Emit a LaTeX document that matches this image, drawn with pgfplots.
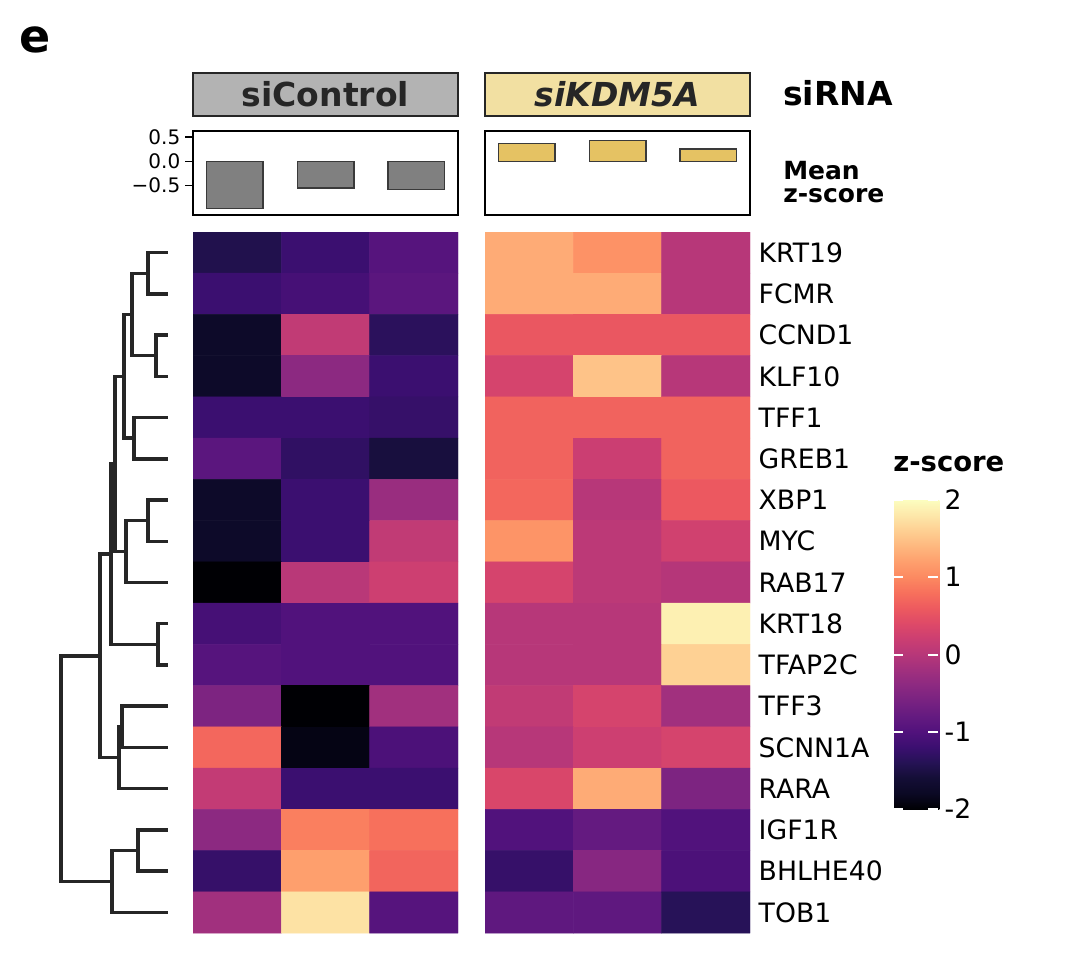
\documentclass[border=0pt]{standalone}
\usepackage{pgfplots}
\pgfplotsset{compat=1.18}
\usepackage{pgfplotstable}
\usepackage{fontspec}
\setmainfont{DejaVu Sans}
\definecolor{dgray}{HTML}{262626}
\definecolor{ctrlc}{HTML}{B3B3B3}
\definecolor{kdmc}{HTML}{F2E0A2}
\definecolor{bargold}{HTML}{E5C263}
\definecolor{bargray}{HTML}{808080}
\definecolor{baredge}{HTML}{3A3A3A}
\pgfplotsset{colormap={magma}{
 rgb255=(0,0,4) rgb255=(11,9,36) rgb255=(20,14,54) rgb255=(37,18,85) rgb255=(59,15,112)
 rgb255=(81,18,124) rgb255=(100,26,128) rgb255=(120,34,129) rgb255=(140,41,129) rgb255=(161,48,126)
 rgb255=(183,55,121) rgb255=(203,62,114) rgb255=(222,73,104) rgb255=(237,90,95) rgb255=(247,112,92)
 rgb255=(252,137,97) rgb255=(254,159,109) rgb255=(254,183,126) rgb255=(254,207,146) rgb255=(253,231,169)
 rgb255=(252,253,191)}}
\tikzset{den/.style={draw=dgray, line width=2.6pt, mark=none, line join=miter, line cap=rect}}

\pgfplotstableread{
x y z
0 0 -1.45
1 0 -1.2
2 0 -0.95
0 1 -1.2
1 1 -1.1
2 1 -0.9
0 2 -1.75
1 2 0.1
2 2 -1.35
0 3 -1.75
1 3 -0.4
2 3 -1.2
0 4 -1.2
1 4 -1.2
2 4 -1.25
0 5 -0.9
1 5 -1.3
2 5 -1.55
0 6 -1.75
1 6 -1.2
2 6 -0.28
0 7 -1.75
1 7 -1.2
2 7 0.1
0 8 -2.0
1 8 0.02
2 8 0.22
0 9 -1.1
1 9 -1.0
2 9 -1.0
0 10 -0.95
1 10 -1.0
2 10 -1.0
0 11 -0.55
1 11 -2.0
2 11 -0.2
0 12 0.72
1 12 -1.9
2 12 -1.05
0 13 0.12
1 13 -1.2
2 13 -1.2
0 14 -0.4
1 14 0.92
2 14 0.8
0 15 -1.25
1 15 1.2
2 15 0.7
0 16 -0.2
1 16 1.76
2 16 -0.95
}\ctrltab

\pgfplotstableread{
x y z
0 0 1.3
1 0 1.08
2 0 0.0
0 1 1.3
1 1 1.3
2 1 0.0
0 2 0.56
1 2 0.56
2 2 0.56
0 3 0.3
1 3 1.5
2 3 0.0
0 4 0.68
1 4 0.68
2 4 0.68
0 5 0.68
1 5 0.2
2 5 0.68
0 6 0.72
1 6 0.0
2 6 0.58
0 7 1.1
1 7 0.05
2 7 0.25
0 8 0.3
1 8 0.05
2 8 -0.02
0 9 0.0
1 9 0.0
2 9 1.88
0 10 0.0
1 10 0.0
2 10 1.62
0 11 0.1
1 11 0.3
2 11 -0.2
0 12 0.0
1 12 0.22
2 12 0.3
0 13 0.35
1 13 1.3
2 13 -0.55
0 14 -1.0
1 14 -0.8
2 14 -1.0
0 15 -1.25
1 15 -0.45
2 15 -1.05
0 16 -0.85
1 16 -0.85
2 16 -1.38
}\kdmtab

\begin{document}
\begin{tikzpicture}
\path[use as bounding box] (0pt,0pt) rectangle (810pt,-714pt);

% dendrogram
\begin{axis}[at={(0pt,-174pt)}, anchor=north west, scale only axis,
  width=144.75pt, height=525.75pt, xmin=0, xmax=193, ymin=-0.5, ymax=16.5,
  y dir=reverse, hide axis, clip=false]
\addplot[den] coordinates {(166,0)(148,0)(148,1)(166,1)};
\addplot[den] coordinates {(166,2)(156,2)(156,3)(166,3)};
\addplot[den] coordinates {(148,0.5)(132,0.5)(132,2.5)(156,2.5)};
\addplot[den] coordinates {(166,4)(134,4)(134,5)(166,5)};
\addplot[den] coordinates {(132,1.5)(124,1.5)(124,4.5)(134,4.5)};
\addplot[den] coordinates {(166,6)(148,6)(148,7)(166,7)};
\addplot[den] coordinates {(148,6.5)(126,6.5)(126,8)(166,8)};
\addplot[den] coordinates {(124,3)(115,3)(115,7.25)(126,7.25)};
\addplot[den] coordinates {(166,9)(158,9)(158,10)(166,10)};
\addplot[den] coordinates {(115,5.125)(111,5.125)(111,9.5)(158,9.5)};
\addplot[den] coordinates {(166,11)(122,11)(122,12)(166,12)};
\addplot[den] coordinates {(122,11.5)(119,11.5)(119,13)(166,13)};
\addplot[den] coordinates {(111,7.3125)(100,7.3125)(100,12.25)(119,12.25)};
\addplot[den] coordinates {(166,14)(138,14)(138,15)(166,15)};
\addplot[den] coordinates {(138,14.5)(112,14.5)(112,16)(166,16)};
\addplot[den] coordinates {(100,9.78)(61,9.78)(61,15.25)(112,15.25)};
\end{axis}

% left heatmap
\begin{axis}[at={(144.75pt,-174pt)}, anchor=north west, scale only axis,
  width=198.75pt, height=525.75pt, xmin=-0.5, xmax=2.5, ymin=-0.5, ymax=16.5,
  y dir=reverse, hide axis, colormap name=magma, point meta min=-2, point meta max=2]
\addplot[matrix plot*, mesh/cols=3, point meta=explicit] table[x=x, y=y, meta=z] {\ctrltab};
\end{axis}

% right heatmap with labels and colorbar
\begin{axis}[at={(363.75pt,-174pt)}, anchor=north west, scale only axis,
  width=198.75pt, height=525.75pt, xmin=-0.5, xmax=2.5, ymin=-0.5, ymax=16.5,
  y dir=reverse, axis line style={draw=none}, xtick=\empty, ytick={0,...,16},
  yticklabels={KRT19,FCMR,CCND1,KLF10,TFF1,GREB1,XBP1,MYC,RAB17,KRT18,TFAP2C,TFF3,SCNN1A,RARA,IGF1R,BHLHE40,TOB1},
  yticklabel pos=right, ytick style={draw=none}, major tick length=0pt,
  yticklabel style={font=\fontsize{20}{24}\selectfont, xshift=3pt},
  colormap name=magma, point meta min=-2, point meta max=2,
  colorbar,
  colorbar/width=33.75pt,
  colorbar style={at={(parent axis.north east)}, anchor=north west,
    xshift=99.75pt, yshift=-201pt, scale only axis, width=33.75pt, height=231.75pt,
    y dir=normal, ymin=-2, ymax=2, ytick=\empty, axis line style={draw=none}}]
\addplot[matrix plot*, mesh/cols=3, point meta=explicit] table[x=x, y=y, meta=z] {\kdmtab};
\end{axis}

% colorbar ticks and labels
\begin{axis}[at={(669.75pt,-375pt)}, anchor=north west, scale only axis,
  width=33.75pt, height=231.75pt, xmin=0, xmax=1, ymin=-2, ymax=2,
  axis line style={draw=none}, xtick=\empty,
  ytick={-2,-1,0,1,2}, yticklabels={-2,-1,0,1,2},
  ytick pos=both, yticklabel pos=right, tick align=inside,
  major tick length=7.5pt, ytick style={draw=white, line width=1.5pt},
  yticklabel style={font=\fontsize{20}{24}\selectfont, xshift=1.5pt}]
\end{axis}

% mean z-score bars, control
\begin{axis}[at={(144.75pt,-98.25pt)}, anchor=north west, scale only axis,
  width=198.75pt, height=63pt, xmin=0, xmax=3, ymin=-1.10, ymax=0.62,
  axis line style={black, line width=1.4pt}, xtick=\empty,
  ytick={-0.5,0,0.5}, yticklabels={−0.5,0.0,0.5}, ytick pos=left, tick align=outside,
  major tick length=6pt, ytick style={black, line width=1.1pt},
  yticklabel style={font=\fontsize{15}{18}\selectfont}]
\addplot[ybar, bar width=0.64, fill=bargray, draw=baredge, line width=1.1pt] coordinates {(0.47,-0.97) (1.5,-0.55) (2.53,-0.58)};
\end{axis}

% mean z-score bars, KDM5A
\begin{axis}[at={(363.75pt,-98.25pt)}, anchor=north west, scale only axis,
  width=198.75pt, height=63pt, xmin=0, xmax=3, ymin=-1.10, ymax=0.62,
  axis line style={black, line width=1.4pt}, xtick=\empty, ytick=\empty]
\addplot[ybar, bar width=0.64, fill=bargold, draw=baredge, line width=1.1pt] coordinates {(0.47,0.36) (1.5,0.43) (2.53,0.25)};
\end{axis}

% annotation boxes
\draw[fill=ctrlc, draw=dgray, line width=1.5pt] (144.75pt,-54.75pt) rectangle (343.5pt,-87pt);
\node[text=dgray, font=\fontsize{24.75}{28}\selectfont\bfseries] at (244.1pt,-70.9pt) {siControl};
\draw[fill=kdmc, draw=dgray, line width=1.5pt] (363.75pt,-54.75pt) rectangle (562.5pt,-87pt);
\node[text=dgray, font=\fontsize{24.75}{28}\selectfont\bfseries\itshape] at (463.1pt,-70.9pt) {siKDM5A};

\node[anchor=west, inner sep=0pt, font=\fontsize{24.75}{28}\selectfont\bfseries] at (587.25pt,-69.75pt) {siRNA};
\node[anchor=west, inner sep=0pt, align=left, font=\fontsize{18.75}{17.5}\selectfont\bfseries] at (587.25pt,-136.5pt) {Mean\\z-score};
\node[anchor=west, inner sep=0pt, font=\fontsize{34.5}{40}\selectfont\bfseries] at (14.25pt,-30pt) {e};
\node[anchor=west, inner sep=0pt, font=\fontsize{20.6}{24}\selectfont\bfseries] at (669.75pt,-348pt) {z-score};
\end{tikzpicture}
\end{document}
